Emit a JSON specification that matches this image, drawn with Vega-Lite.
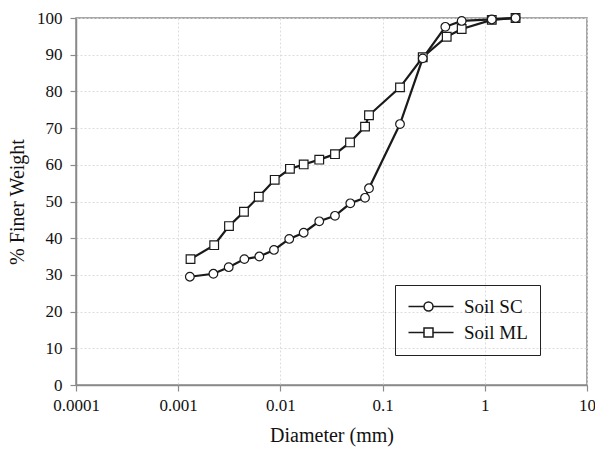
{
  "$schema": "https://vega.github.io/schema/vega-lite/v6.json",
  "width": 511,
  "height": 367,
  "autosize": {"type": "none"},
  "padding": {"left": 76, "top": 18, "right": 8, "bottom": 67},
  "background": "white",
  "config": {
    "font": "Liberation Serif",
    "view": {"stroke": "#8a8a8a", "strokeWidth": 1.5},
    "axis": {
      "labelColor": "#111",
      "titleColor": "#111",
      "titleFontWeight": "normal",
      "domainColor": "#8a8a8a",
      "domainWidth": 1.5,
      "tickColor": "#8a8a8a",
      "tickWidth": 1.2,
      "tickSize": 6,
      "gridColor": "#dcdcdc",
      "gridDash": [2, 2],
      "gridWidth": 1
    }
  },
  "data": {
    "values": [
      {"series": "Soil ML", "d": 0.00132, "v": 34.3},
      {"series": "Soil ML", "d": 0.00225, "v": 38.1},
      {"series": "Soil ML", "d": 0.00314, "v": 43.3},
      {"series": "Soil ML", "d": 0.0044, "v": 47.2},
      {"series": "Soil ML", "d": 0.00614, "v": 51.3},
      {"series": "Soil ML", "d": 0.0088, "v": 55.9},
      {"series": "Soil ML", "d": 0.0124, "v": 58.9},
      {"series": "Soil ML", "d": 0.0169, "v": 60.1},
      {"series": "Soil ML", "d": 0.024, "v": 61.4},
      {"series": "Soil ML", "d": 0.0342, "v": 62.9},
      {"series": "Soil ML", "d": 0.048, "v": 66.1},
      {"series": "Soil ML", "d": 0.0673, "v": 70.4},
      {"series": "Soil ML", "d": 0.0736, "v": 73.5},
      {"series": "Soil ML", "d": 0.148, "v": 81.1},
      {"series": "Soil ML", "d": 0.247, "v": 89.3},
      {"series": "Soil ML", "d": 0.424, "v": 94.9},
      {"series": "Soil ML", "d": 0.594, "v": 97.0},
      {"series": "Soil ML", "d": 1.17, "v": 99.5},
      {"series": "Soil ML", "d": 2.0, "v": 100},
      {"series": "Soil SC", "d": 0.0013, "v": 29.5},
      {"series": "Soil SC", "d": 0.00221, "v": 30.3},
      {"series": "Soil SC", "d": 0.00312, "v": 32.1},
      {"series": "Soil SC", "d": 0.00444, "v": 34.3},
      {"series": "Soil SC", "d": 0.00622, "v": 35.0},
      {"series": "Soil SC", "d": 0.00865, "v": 36.8},
      {"series": "Soil SC", "d": 0.0122, "v": 39.8},
      {"series": "Soil SC", "d": 0.0169, "v": 41.5},
      {"series": "Soil SC", "d": 0.024, "v": 44.6},
      {"series": "Soil SC", "d": 0.0342, "v": 46.1},
      {"series": "Soil SC", "d": 0.0483, "v": 49.5},
      {"series": "Soil SC", "d": 0.0673, "v": 51.0},
      {"series": "Soil SC", "d": 0.0736, "v": 53.6},
      {"series": "Soil SC", "d": 0.148, "v": 71.1},
      {"series": "Soil SC", "d": 0.247, "v": 89.0},
      {"series": "Soil SC", "d": 0.411, "v": 97.6},
      {"series": "Soil SC", "d": 0.594, "v": 99.2},
      {"series": "Soil SC", "d": 1.17, "v": 99.6},
      {"series": "Soil SC", "d": 2.0, "v": 100}
    ]
  },
  "encoding": {
    "x": {
      "field": "d",
      "type": "quantitative",
      "scale": {"type": "log", "domain": [0.0001, 10], "nice": false},
      "axis": {
        "title": "Diameter (mm)",
        "values": [0.0001, 0.001, 0.01, 0.1, 1, 10],
        "format": "~g",
        "labelFont": "Liberation Serif",
        "titleFont": "Liberation Serif",
        "labelFontSize": 17,
        "titleFontSize": 20,
        "labelPadding": 6,
        "titlePadding": 12,
        "labelFlush": false
      }
    },
    "y": {
      "field": "v",
      "type": "quantitative",
      "scale": {"domain": [0, 100], "nice": false, "zero": true},
      "axis": {
        "title": "% Finer Weight",
        "values": [0, 10, 20, 30, 40, 50, 60, 70, 80, 90, 100],
        "labelFont": "Liberation Serif",
        "titleFont": "Liberation Serif",
        "labelFontSize": 17,
        "titleFontSize": 20,
        "labelPadding": 8,
        "titlePadding": 9
      }
    }
  },
  "layer": [
    {
      "mark": {"type": "line", "stroke": "#1a1a1a", "strokeWidth": 2.2},
      "encoding": {"detail": {"field": "series"}}
    },
    {
      "mark": {"type": "point", "filled": false, "fill": "white", "fillOpacity": 1, "stroke": "#1a1a1a", "strokeWidth": 1.2, "opacity": 1},
      "encoding": {
        "shape": {
          "field": "series",
          "type": "nominal",
          "scale": {"domain": ["Soil SC", "Soil ML"], "range": ["circle", "square"]},
          "legend": null
        },
        "size": {"value": 75}
      }
    },
    {
      "transform": [{"filter": "datum.v > 1000"}],
      "mark": {"type": "point", "filled": false, "stroke": "#1a1a1a", "strokeWidth": 1.8, "opacity": 1},
      "encoding": {
        "shape": {
          "field": "series",
          "type": "nominal",
          "scale": {
            "domain": ["Soil SC", "Soil ML"],
            "range": [
              "M-1.6,0H1.5M3.3,0H7.4M1.5,0A0.9,0.9,0,1,1,3.3,0A0.9,0.9,0,1,1,1.5,0Z",
              "M-1.6,0H1.5M3.3,0H7.4M1.5,-0.9H3.3V0.9H1.5Z"
            ]
          },
          "legend": {
            "title": null,
            "orient": "none",
            "legendX": 319,
            "legendY": 267,
            "padding": 12,
            "strokeColor": "#222",
            "labelFont": "Liberation Serif",
            "labelFontSize": 19,
            "labelColor": "#111",
            "symbolSize": 100,
            "labelOffset": 38,
            "rowPadding": 6
          }
        }
      }
    }
  ],
  "resolve": {"scale": {"shape": "independent"}}
}
